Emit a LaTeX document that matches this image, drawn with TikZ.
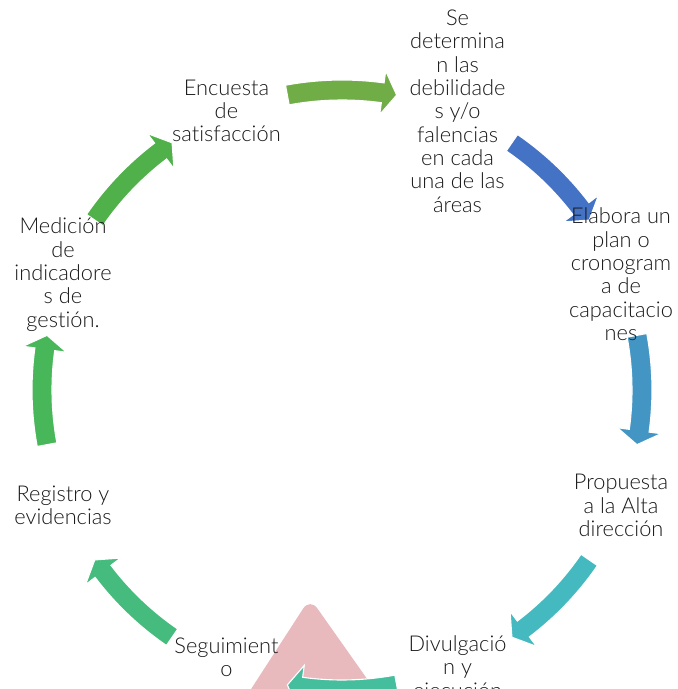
\documentclass[tikz,border=0pt]{standalone}
\usepackage{fontspec}
\setmainfont{Lato}[UprightFont=* Light,Ligatures=NoCommon]
\usepackage{xcolor}
\definecolor{textblack}{RGB}{25,25,25}
\definecolor{arrowa}{RGB}{112,173,71}
\definecolor{arrowb}{RGB}{68,114,196}
\definecolor{arrowc}{RGB}{67,150,196}
\definecolor{arrowd}{RGB}{69,185,192}
\definecolor{arrowe}{RGB}{69,190,158}
\definecolor{arrowf}{RGB}{69,187,125}
\definecolor{arrowg}{RGB}{72,183,90}
\definecolor{arrowh}{RGB}{80,176,74}
\definecolor{pinktri}{RGB}{232,186,190}
\tikzset{
  steptext/.style={align=center,text=textblack,font=\fontsize{15.5}{16.6}\selectfont,inner sep=0pt}
}
% block arrow on the cycle, #1 = middle angle, #2 = colour
\newcommand{\cyclearrow}[2]{%
  \fill[#2,draw=white,line width=0.8pt] (#1+10.5:7.75) arc[start angle=#1+10.5,end angle=#1-7.8,radius=7.75]
    -- (#1-7.8:8.05) -- (#1-10.5:7.5) -- (#1-7.8:6.95) -- (#1-7.8:7.25)
    arc[start angle=#1-7.8,end angle=#1+10.5,radius=7.25] -- cycle;}

\begin{document}
\begin{tikzpicture}
\useasboundingbox (-8.55,-7.475) rectangle (8.4,9.75);
\clip (-8.55,-7.475) rectangle (8.4,9.75);
\coordinate (centro) at (0,0);
% pink triangle behind the lower arrow
\fill[pinktri,rounded corners=9pt] (-0.8,-5.2) -- (1.6,-8.6) -- (-3.0,-8.6) -- cycle;
% arrows, clockwise
\cyclearrow{90}{arrowa}
\cyclearrow{45}{arrowb}
\cyclearrow{0}{arrowc}
\cyclearrow{-45}{arrowd}
\cyclearrow{-90}{arrowe}
\cyclearrow{-135}{arrowf}
\cyclearrow{180}{arrowg}
\cyclearrow{135}{arrowh}
% steps
\node[steptext] (debilidades) at (67.5:7.55) {Se\\determina\\n las\\debilidade\\s y/o\\falencias\\en cada\\una de las\\áreas};
\node[steptext] (plan) at (22.5:7.55) {Elabora un\\plan o\\cronogram\\a de\\capacitacio\\nes};
\node[steptext] (propuesta) at (-22.5:7.55) {Propuesta\\a la Alta\\dirección};
\node[steptext] (divulgacion) at (-67.5:7.55) {Divulgació\\n y\\ejecución};
\node[steptext] (seguimiento) at (-112.5:7.55) {Seguimient\\o\\};
\node[steptext] (registro) at (-157.5:7.55) {Registro y\\evidencias};
\node[steptext] (medicion) at (157.5:7.55) {Medición\\de\\indicadore\\s de\\gestión.};
\node[steptext] (encuesta) at (112.5:7.55) {Encuesta\\de\\satisfacción};
\end{tikzpicture}
\end{document}
